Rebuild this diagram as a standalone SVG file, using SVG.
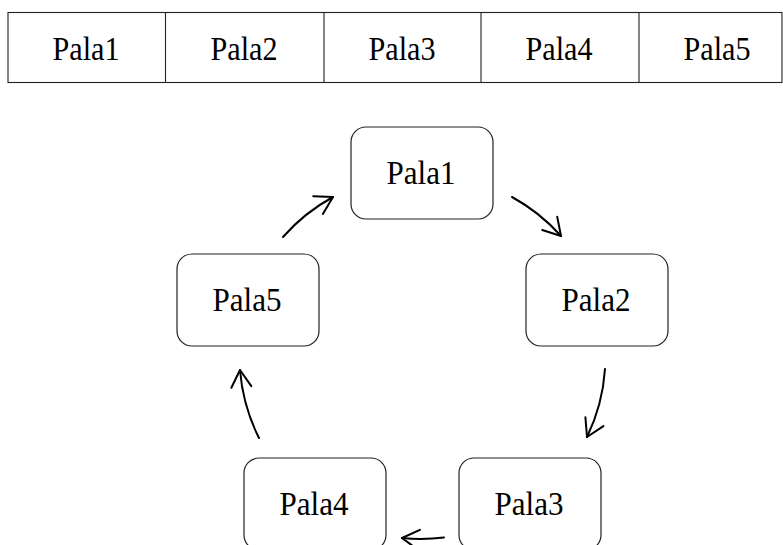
<svg xmlns="http://www.w3.org/2000/svg" width="783" height="545" viewBox="0 0 783 545">
  <style>
    .lbl { font-family: "Liberation Serif", "Times New Roman", serif; font-size: 33px; fill: #000; text-anchor: middle; }
    .cell { fill: none; stroke: #222; stroke-width: 1.1; }
    .node rect { fill: #fff; stroke: #222; stroke-width: 1.2; }
    .arc { fill: none; stroke: #000; stroke-width: 2; stroke-linecap: round; marker-end: url(#head); }
  </style>
  <defs>
    <marker id="head" markerUnits="userSpaceOnUse" orient="auto" refX="0" refY="0" markerWidth="40" markerHeight="40" viewBox="-20 -20 40 40" overflow="visible">
      <path d="M-17,-10 L0,0 L-17,10" fill="none" stroke="#000" stroke-width="2" stroke-linecap="round" stroke-linejoin="round"/>
    </marker>
  </defs>
  <rect width="783" height="545" fill="#fff"/>

  <!-- strip of five cells -->
  <g id="strip">
    <rect class="cell" x="8" y="12.5" width="774" height="70"/>
    <line class="cell" x1="165.5" y1="12.5" x2="165.5" y2="82.5"/>
    <line class="cell" x1="324" y1="12.5" x2="324" y2="82.5"/>
    <line class="cell" x1="481" y1="12.5" x2="481" y2="82.5"/>
    <line class="cell" x1="639" y1="12.5" x2="639" y2="82.5"/>
    <text class="lbl" x="86" y="60" textLength="67" lengthAdjust="spacingAndGlyphs">Pala1</text>
    <text class="lbl" x="244" y="60" textLength="67" lengthAdjust="spacingAndGlyphs">Pala2</text>
    <text class="lbl" x="402" y="60" textLength="67" lengthAdjust="spacingAndGlyphs">Pala3</text>
    <text class="lbl" x="559" y="60" textLength="67" lengthAdjust="spacingAndGlyphs">Pala4</text>
    <text class="lbl" x="717" y="60" textLength="67" lengthAdjust="spacingAndGlyphs">Pala5</text>
  </g>

  <!-- ring nodes -->
  <g id="n1" class="node">
    <rect x="351" y="127" width="142" height="92" rx="15"/>
    <text class="lbl" x="421" y="183.5" textLength="69" lengthAdjust="spacingAndGlyphs">Pala1</text>
  </g>
  <g id="n2" class="node">
    <rect x="526" y="254" width="142" height="92" rx="15"/>
    <text class="lbl" x="596" y="310.5" textLength="69" lengthAdjust="spacingAndGlyphs">Pala2</text>
  </g>
  <g id="n3" class="node">
    <rect x="459" y="458" width="142" height="92" rx="15"/>
    <text class="lbl" x="529" y="514.5" textLength="69" lengthAdjust="spacingAndGlyphs">Pala3</text>
  </g>
  <g id="n4" class="node">
    <rect x="244" y="458" width="142" height="92" rx="15"/>
    <text class="lbl" x="314" y="514.5" textLength="69" lengthAdjust="spacingAndGlyphs">Pala4</text>
  </g>
  <g id="n5" class="node">
    <rect x="177" y="254" width="142" height="92" rx="15"/>
    <text class="lbl" x="247" y="310.5" textLength="69" lengthAdjust="spacingAndGlyphs">Pala5</text>
  </g>

  <!-- clockwise arcs between neighbours -->
  <g id="connectors">
    <path class="arc" d="M512,197 A183.5,183.5 0 0 1 561,236"/>
    <path class="arc" d="M605,369 A183.5,183.5 0 0 1 587,437"/>
    <path class="arc" d="M444,537.5 A183.5,183.5 0 0 1 402,538"/>
    <path class="arc" d="M259,438 A183.5,183.5 0 0 1 240,370"/>
    <path class="arc" d="M283,237 A183.5,183.5 0 0 1 333,197"/>
  </g>
</svg>
